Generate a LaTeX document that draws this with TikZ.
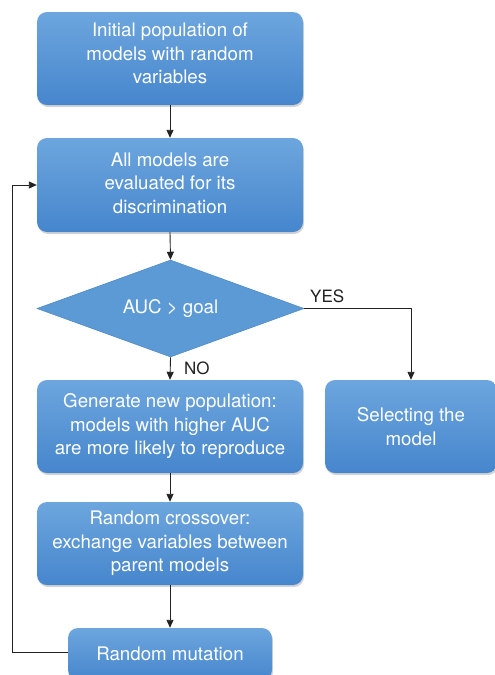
\documentclass[tikz,border=0pt]{standalone}
\usepackage{fontspec}
\setmainfont{TeX Gyre Heros}
\usetikzlibrary{shapes.geometric,arrows.meta,shadows}
\definecolor{boxtop}{HTML}{6DA6DE}
\definecolor{boxbot}{HTML}{4686CD}
\definecolor{diafill}{HTML}{5B9AD5}
\definecolor{diaedge}{HTML}{4A86C2}
\definecolor{linecol}{HTML}{222222}
\tikzset{
  stepbox/.style={rectangle, rounded corners=10pt, top color=boxtop, bottom color=boxbot,
    draw=none, text=white, align=center, inner sep=0pt,
    font=\fontsize{18.7}{23.5}\selectfont,
    drop shadow={opacity=0.35, shadow xshift=1pt, shadow yshift=-2pt}},
  decision/.style={diamond, fill=diafill, draw=diaedge, line width=0.5pt, text=white,
    inner sep=0pt, aspect=2.75, minimum width=267pt, minimum height=97pt,
    font=\fontsize{18.7}{23.5}\selectfont},
  conn/.style={draw=linecol, line width=0.9pt, -{Triangle[width=7pt,length=8pt]}},
  lbl/.style={text=linecol, font=\fontsize{17}{20}\selectfont, inner sep=0pt}
}
\begin{document}
\begin{tikzpicture}[x=1pt,y=1pt]
\useasboundingbox (0,0) rectangle (495,-675);
\node[stepbox, minimum width=266pt, minimum height=93pt] (b1) at (170,-58.5)
  {Initial population of\\models with random\\variables\\[-13pt]\mbox{}};
\node[stepbox, minimum width=266pt, minimum height=94pt] (b2) at (170,-185)
  {All models are\\evaluated for its\\discrimination\\[-19pt]\mbox{}};
\node[decision] (d) at (170.5,-308.5) {AUC > goal};
\node[stepbox, minimum width=266pt, minimum height=93pt] (b3) at (170,-426.5)
  {Generate new population:\\models with higher AUC\\are more likely to reproduce};
\node[stepbox, minimum width=172pt, minimum height=93pt] (b4) at (411,-426.5)
  {Selecting the\\model};
\node[stepbox, minimum width=266pt, minimum height=83pt] (b5) at (170,-543.5)
  {Random crossover:\\exchange variables between\\parent models};
\node[stepbox, minimum width=204pt, minimum height=52pt] (b6) at (170,-654)
  {Random mutation};
\coordinate (lp) at (12,-652);
\draw[conn] (b1.south) -- (b2.north);
\draw[conn] (b2.south) -- (d.north);
\draw[conn] (d.south) -- (b3.north);
\draw[conn] (b3.south) -- (b5.north);
\draw[conn] (b5.south) -- (b6.north);
\draw[conn] (d.east) -| (b4.north);
\draw[conn] (b6.west |- lp) -- (lp) |- (b2.west);
\node[lbl, anchor=base west] (yes) at (310,-302) {YES};
\node[lbl, anchor=base west] (no) at (184,-374) {NO};
\end{tikzpicture}
\end{document}
